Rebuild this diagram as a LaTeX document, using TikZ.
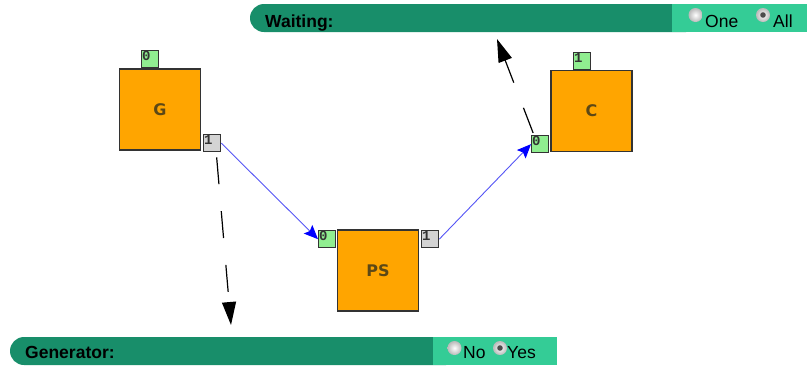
\documentclass[tikz,border=0pt]{standalone}
\usepackage{fontspec}
\setmainfont{Liberation Sans}
\newfontfamily\boxfont{DejaVu Sans}
\newfontfamily\portfont{Liberation Mono}
\usetikzlibrary{arrows.meta,calc}
\definecolor{bardark}{RGB}{24,142,106}
\definecolor{barlight}{RGB}{52,204,150}
\definecolor{boxorange}{RGB}{255,165,0}
\definecolor{boxline}{RGB}{51,51,51}
\definecolor{lblcol}{RGB}{92,72,22}
\definecolor{portgreen}{RGB}{144,238,144}
\definecolor{portgray}{RGB}{211,211,211}
\definecolor{edgeblue}{RGB}{85,85,245}
\definecolor{radiogray}{RGB}{185,185,185}
\tikzset{
  box/.style={draw=boxline, fill=boxorange, line width=1.6pt, minimum width=81pt, minimum height=81pt, inner sep=0pt, text=lblcol, font=\boxfont\bfseries\fontsize{16}{18}\selectfont},
  port/.style={draw=boxline, line width=1.3pt, minimum width=17pt, minimum height=17pt, inner sep=0pt, anchor=north west},
  gport/.style={port, fill=portgreen},
  yport/.style={port, fill=portgray},
  plabel/.style={label={[anchor=north west, inner sep=1pt, text=boxline, font=\portfont\bfseries\fontsize{14}{14}\selectfont]north west:#1}},
  bartext/.style={anchor=base west, inner sep=0pt, font=\bfseries\fontsize{17.5}{20}\selectfont},
  radiotext/.style={anchor=base west, inner sep=0pt, font=\fontsize{17.5}{20}\selectfont},
  radio/.style={circle, minimum size=14pt, inner sep=0pt, shading=radial, inner color=white, outer color=radiogray},
  radiosel/.style={radio, path picture={\fill[black!70] (path picture bounding box.center) circle (2.8pt);}},
  blueedge/.style={draw=edgeblue, line width=0.9pt, -{Stealth[length=14pt, width=12pt, inset=2.5pt, fill=blue, color=blue]}},
  dashedge/.style={draw=black, line width=1.2pt, dash pattern=on 27pt off 27pt, -{Triangle[length=23pt, width=14pt]}}
}
\begin{document}
\begin{tikzpicture}[x=1pt, y=-1pt]
\useasboundingbox (0,0) rectangle (807,365);
% top bar
\fill[bardark, rounded corners=14pt] (250,4) rectangle (700,32);
\fill[barlight] (672,4) rectangle (807,32);
\node[bartext] (wt) at (265,27) {Waiting:};
\node[radio] (rone) at (695.5,15) {};
\node[radiotext] (tone) at (705,27) {One};
\node[radiosel] (rall) at (763,15) {};
\node[radiotext] (tall) at (773,27) {All};
% bottom bar
\fill[bardark, rounded corners=14pt] (10,337) rectangle (460,365);
\fill[barlight] (433,337) rectangle (557,365);
\node[bartext] (gt) at (25,358) {Generator:};
\node[radio] (rno) at (454.5,348) {};
\node[radiotext] (tno) at (463,358) {No};
\node[radiosel] (ryes) at (500,348) {};
\node[radiotext] (tyes) at (507,358) {Yes};
% boxes
\node[box] (G) at (160,109.5) {G};
\node[box] (PS) at (378,270.5) {PS};
\node[box] (C) at (591.5,111) {C};
% ports
\node[gport, plabel=0] (g0) at (141,50) {};
\node[yport, plabel=1] (g1) at (203,134) {};
\node[gport, plabel=0] (ps0) at (318,230) {};
\node[yport, plabel=1] (ps1) at (421,230) {};
\node[gport, plabel=1] (c1) at (573,52) {};
\node[gport, plabel=0] (c0) at (531,135) {};
% connectors
\draw[blueedge] (g1.east) -- (ps0.west);
\draw[blueedge] (ps1.east) -- (c0.west);
\coordinate (gend) at (231,325);
\coordinate (cend) at (497,39);
\draw[dashedge] ($(g1.south)+(4.5,5)$) -- (gend);
\draw[dashedge] ($(c0.north)+(-7,-2)$) -- (cend);
\end{tikzpicture}
\end{document}
